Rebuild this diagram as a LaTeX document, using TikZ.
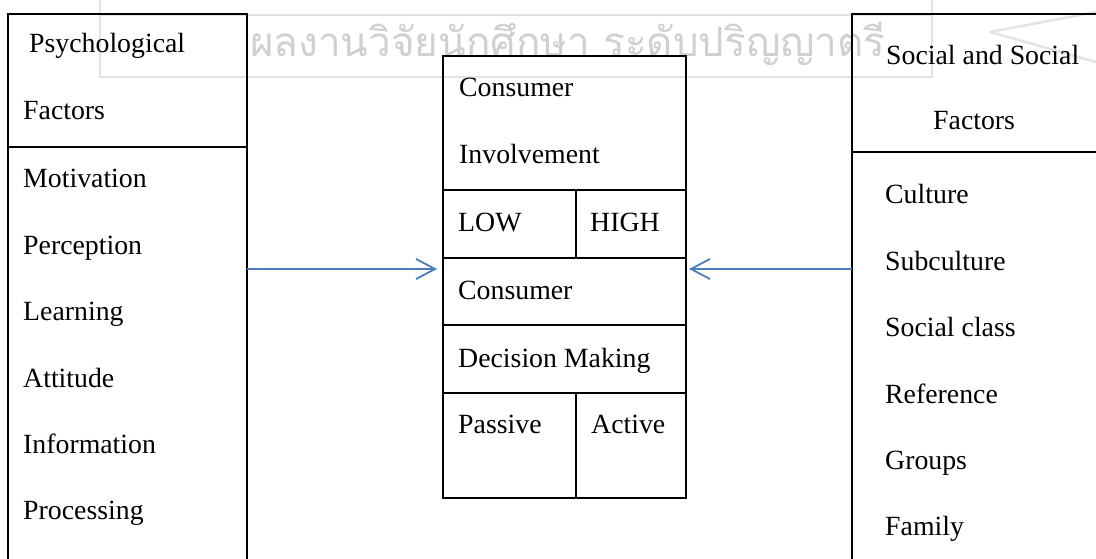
\documentclass[tikz,border=0pt]{standalone}
\usepackage{fontspec}
\setmainfont{Liberation Serif}
\newfontfamily\thaifont[Script=Thai]{Loma}
\usetikzlibrary{arrows.meta}
\definecolor{linkblue}{HTML}{4A7EBB}
\definecolor{markgrey}{HTML}{D0D0D0}
\definecolor{bandgrey}{HTML}{E3E3E3}

\begin{document}
\begin{tikzpicture}[x=1pt,y=-1pt,
  frame/.style={draw=black,line width=1.8pt,inner sep=0pt,outer sep=0pt},
  rule/.style={draw=black,line width=1.8pt},
  band/.style={draw=bandgrey,line width=2.5pt,line join=round},
  lbl/.style={anchor=base west,inner sep=0pt,font=\fontsize{27.8}{33}\selectfont},
  link/.style={draw=linkblue,line width=1.8pt,
    -{Straight Barb[length=19pt,width=20pt,line width=1.8pt]}}]
\useasboundingbox (0,0) rectangle (1096,559);
\clip (0,0) rectangle (1096,559);

% faint banner behind the top edge
\draw[band] (100,0) -- (100,77) -- (932,77) -- (932,0);
\draw[band] (100,15) -- (932,15);
\draw[band] (1096,12) -- (990,32) -- (1096,62);
\node[anchor=base west,inner sep=0pt,text=markgrey] (mark) at (250,57)
  {\resizebox{635pt}{!}{\thaifont ผลงานวิจัยนักศึกษา ระดับปริญญาตรี}};

% three boxes
\node[frame,anchor=north west,minimum width=239pt,minimum height=600pt] (psych) at (8,14) {};
\node[frame,anchor=north west,minimum width=243pt,minimum height=442pt] (cdm) at (443,56) {};
\node[frame,anchor=north west,minimum width=300pt,minimum height=600pt] (social) at (852,14) {};

% header rules of the side boxes
\coordinate (lh) at (0,147);
\coordinate (rh) at (0,152);
\draw[rule] (psych.west |- lh) -- (psych.east |- lh);
\draw[rule] (social.west |- rh) -- (social.east |- rh);

% rows and splits of the centre table
\foreach \yy in {190,258,325,393}{
  \draw[rule] (cdm.west |- 0,\yy) -- (cdm.east |- 0,\yy);
}
\draw[rule] (576,190) -- (576,258);
\draw[rule] (576,393) -- (cdm.south -| 576,0);

% left column texts
\node[lbl] (p0) at (29,53) {Psychological};
\node[lbl] (p1) at (23,120) {Factors};
\node[lbl] (p2) at (23,188) {Motivation};
\node[lbl] (p3) at (23,254.3) {Perception};
\node[lbl] (p4) at (23,320.6) {Learning};
\node[lbl] (p5) at (23,387) {Attitude};
\node[lbl] (p6) at (23,453) {Information};
\node[lbl] (p7) at (23,519.5) {Processing};

% centre texts
\node[lbl] (c1) at (459,97) {Consumer};
\node[lbl] (c2) at (459,164) {Involvement};
\node[lbl] (c3) at (458,231) {LOW};
\node[lbl] (c4) at (590,231) {HIGH};
\node[lbl] (c5) at (458,299) {Consumer};
\node[lbl] (c6) at (458,367) {Decision Making};
\node[lbl] (c7) at (458,433) {Passive};
\node[lbl] (c8) at (591,433) {Active};

% right column texts
\node[lbl] (s0) at (886,65) {Social and Social};
\node[lbl] (s1) at (933,130) {Factors};
\node[lbl] (s2) at (885,204) {Culture};
\node[lbl] (s3) at (885,270) {Subculture};
\node[lbl] (s4) at (885,336) {Social class};
\node[lbl] (s5) at (885,403) {Reference};
\node[lbl] (s6) at (885,469) {Groups};
\node[lbl] (s7) at (885,535) {Family};

% connectors into the centre table
\coordinate (ay) at (0,269);
\draw[link] (psych.east |- ay) -- ([xshift=-6pt]cdm.west |- ay);
\draw[link] (social.west |- ay) -- ([xshift=3pt]cdm.east |- ay);
\end{tikzpicture}
\end{document}
